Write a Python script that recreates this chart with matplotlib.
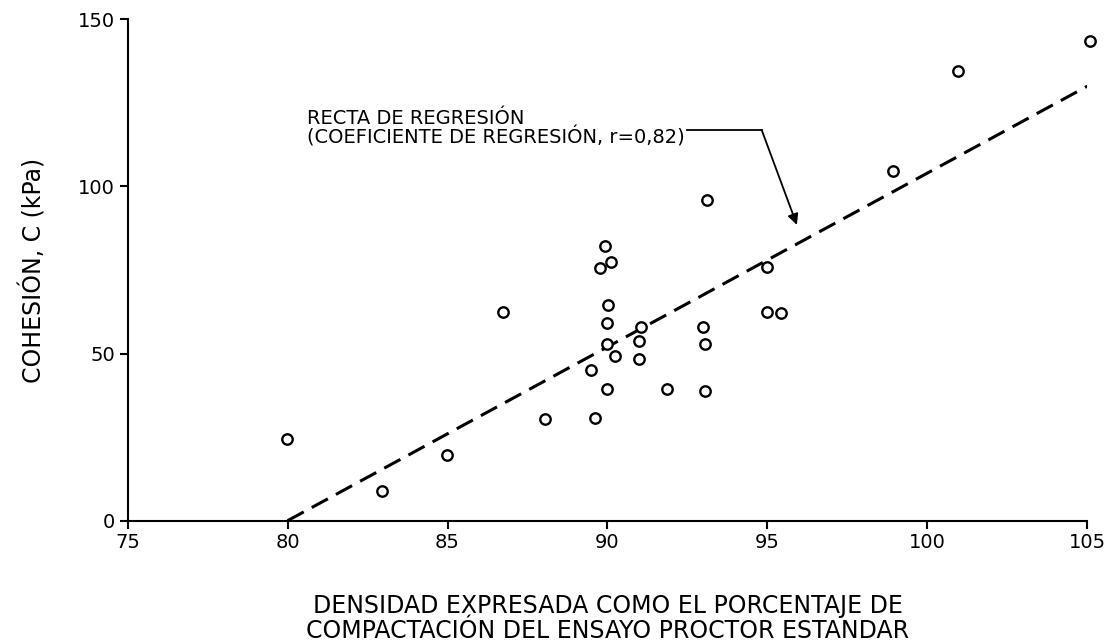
import numpy as np
import matplotlib.pyplot as plt

# densidad (% Proctor estandar) y cohesion medida (kPa)
densidad = [79.98, 82.95, 84.98, 86.72, 88.04, 89.62, 89.47, 89.76, 89.93, 90.11,
            90.02, 90.0, 90.0, 90.23, 90.0, 91.05, 91.0, 91.0, 91.86, 93.1,
            93.0, 93.06, 93.06, 95.0, 95.0, 95.43, 98.93, 100.95, 105.08]
cohesion = [24.4, 9.0, 19.7, 62.4, 30.3, 30.8, 45.1, 75.7, 82.3, 77.5,
            64.4, 59.0, 52.9, 49.4, 39.5, 57.9, 53.8, 48.5, 39.3, 95.9,
            57.9, 52.9, 38.7, 76.0, 62.4, 62.2, 104.6, 134.5, 143.6]

# recta de regresion
recta_x = [80, 105]
recta_y = [0, 130]

xticks = [75, 80, 85, 90, 95, 100, 105]
yticks = [0, 50, 100, 150]

plt.rcParams['font.family'] = 'DejaVu Sans'

fig = plt.figure(figsize=(11.11, 6.44), dpi=100)
ax = fig.add_axes([0.1149, 0.1915, 0.8638, 0.7785])

ax.plot(recta_x, recta_y, color='black', lw=2.2, dashes=(6, 3))
ax.plot(densidad, cohesion, 'o', ms=7.5, mfc='white', mec='black', mew=1.7, clip_on=False)

ax.set_xlim(75, 105)
ax.set_ylim(0, 150)
ax.set_xticks(xticks)
ax.set_yticks(yticks)

for s in ['top', 'right']:
    ax.spines[s].set_visible(False)
for s in ['left', 'bottom']:
    ax.spines[s].set_linewidth(1.5)
ax.tick_params(direction='out', length=6, width=1.5, labelsize=14, pad=3)

ax.set_xlabel('DENSIDAD EXPRESADA COMO EL PORCENTAJE DE\nCOMPACTACIÓN DEL ENSAYO PROCTOR ESTANDAR',
              fontsize=17, labelpad=30, linespacing=1.06)
ax.set_ylabel('COHESIÓN, C (kPa)', fontsize=17, labelpad=23)

# va='baseline' se toma sobre la ultima linea del texto
txt = ax.text(80.6, 112.9, 'RECTA DE REGRESIÓN\n(COEFICIENTE DE REGRESIÓN, r=0,82)',
              fontsize=14, ha='left', va='baseline', linespacing=0.93)

# la linea guia arranca donde termina el texto
fig.canvas.draw()
bb = txt.get_window_extent()
x_fin = ax.transData.inverted().transform((bb.x1 + 2, bb.y1))[0]
codo_x, codo_y = 94.82, 116.9
ax.plot([x_fin, codo_x], [codo_y, codo_y], color='black', lw=1.3)
ax.annotate('', xy=(95.92, 88.5), xytext=(codo_x, codo_y),
            arrowprops=dict(arrowstyle='-|>', color='black', lw=1.3,
                            mutation_scale=16, shrinkA=0, shrinkB=0))

fig.savefig('out.png', dpi=100)
